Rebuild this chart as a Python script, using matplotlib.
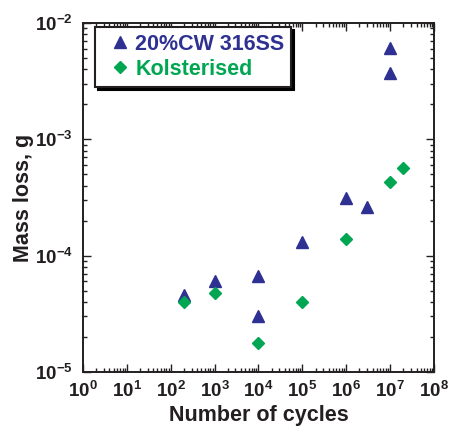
import matplotlib
matplotlib.use("Agg")
import matplotlib.pyplot as plt
from matplotlib.ticker import LogLocator, NullFormatter
import numpy as np

plt.rcParams['font.family'] = ['Liberation Sans', 'DejaVu Sans']
plt.rcParams['font.weight'] = 'bold'
plt.rcParams['mathtext.fontset'] = 'custom'
plt.rcParams['mathtext.rm'] = 'Liberation Sans:bold'
plt.rcParams['mathtext.it'] = 'Liberation Sans:bold'
plt.rcParams['mathtext.bf'] = 'Liberation Sans:bold'
plt.rcParams['mathtext.sf'] = 'Liberation Sans:bold'

TXT = '#231f20'
BLUE = '#2e3192'
GREEN = '#00a651'

# 20% cold-worked 316 stainless steel
cw_cycles = [2e2, 1e3, 1e4, 1e4, 1e5, 1e6, 3e6, 1e7, 1e7]
cw_mass = [4.6e-5, 6.0e-5, 6.7e-5, 3.05e-5, 1.3e-4, 3.1e-4, 2.6e-4, 3.7e-3, 6.1e-3]

# Kolsterised surface
kol_cycles = [2e2, 1e3, 1e4, 1e5, 1e6, 1e7, 2e7]
kol_mass = [4.0e-5, 4.75e-5, 1.78e-5, 4.0e-5, 1.38e-4, 4.3e-4, 5.65e-4]

fig = plt.figure(figsize=(4.53, 4.30), dpi=100)
ax = fig.add_axes([0.183, 0.135, 0.775, 0.8115])

ax.plot(cw_cycles, cw_mass, linestyle='none', marker='^', markersize=8,
        color=BLUE, label='20%CW 316SS')
ax.plot(kol_cycles, kol_mass, linestyle='none', marker='D', markersize=5.8,
        color=GREEN, label='Kolsterised')

ax.set_xscale('log')
ax.set_yscale('log')
ax.set_xlim(1, 1e8)
ax.set_ylim(1e-5, 1e-2)

ax.xaxis.set_major_locator(LogLocator(base=10, numticks=20))
ax.xaxis.set_minor_locator(LogLocator(base=10, subs=np.arange(2, 10), numticks=100))
ax.yaxis.set_major_locator(LogLocator(base=10, numticks=20))
ax.yaxis.set_minor_locator(LogLocator(base=10, subs=np.arange(2, 10), numticks=100))
ax.xaxis.set_minor_formatter(NullFormatter())
ax.yaxis.set_minor_formatter(NullFormatter())

ax.tick_params(which='both', direction='in', top=True, right=True,
               colors=TXT, width=1.0)
ax.tick_params(which='major', length=6, labelsize=13.5)
ax.tick_params(which='minor', length=3)
ax.tick_params(axis='x', which='major', pad=6.5)
ax.tick_params(axis='y', which='major', pad=7.5)
for s in ax.spines.values():
    s.set_linewidth(1.4)
    s.set_color(TXT)

ax.set_xlabel('Number of cycles', fontsize=15.5, fontweight='bold', color=TXT, labelpad=3)
ax.set_ylabel('Mass loss, g', fontsize=15.5, fontweight='bold', color=TXT)
ax.yaxis.set_label_coords(-0.14, 0.5)

leg = ax.legend(loc='upper left', bbox_to_anchor=(0.034, 0.9885), borderaxespad=0,
                fontsize=15.5, frameon=True, fancybox=False,
                shadow={'color': 'k', 'alpha': 1, 'ox': 2.2, 'oy': -2.2},
                handlelength=1.0, handletextpad=0.56, labelspacing=0.18,
                borderpad=0.32)
leg.get_frame().set_edgecolor(TXT)
leg.get_frame().set_linewidth(1.5)
for txt, col in zip(leg.get_texts(), [BLUE, GREEN]):
    txt.set_color(col)
    txt.set_fontweight('bold')
# nudge the legend symbols toward their labels
for h in leg.legend_handles:
    h.set_xdata(np.asarray(h.get_xdata()) + 5.5)

fig.savefig('out.png', dpi=100)
